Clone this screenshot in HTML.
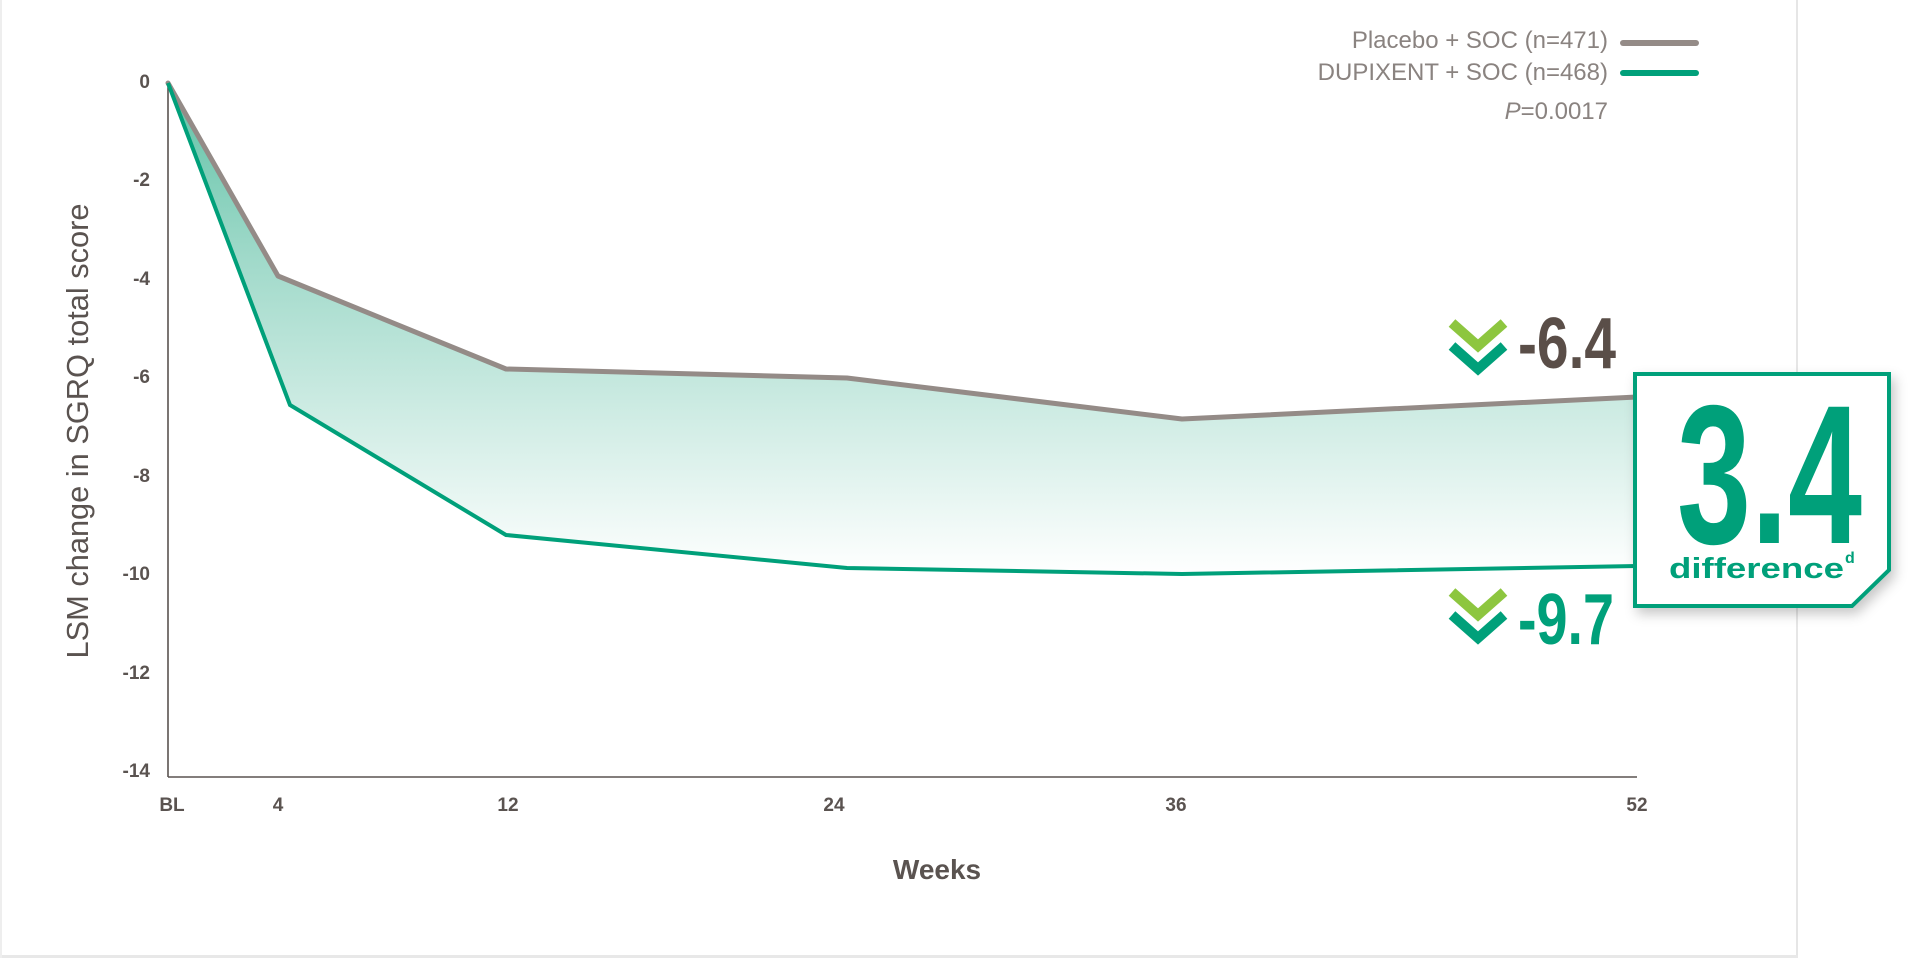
<!DOCTYPE html>
<html><head><meta charset="utf-8"><style>
html,body{margin:0;padding:0;background:#fff;width:1920px;height:965px;overflow:hidden}
svg{display:block}
</style></head><body>
<svg width="1920" height="965" viewBox="0 0 1920 965" xmlns="http://www.w3.org/2000/svg">
<defs>
<linearGradient id="fillg" x1="0" y1="83" x2="0" y2="575" gradientUnits="userSpaceOnUse">
<stop offset="0" stop-color="#5fc2a6"/>
<stop offset="0.35" stop-color="#9fd9c9"/>
<stop offset="1" stop-color="#ffffff"/>
</linearGradient>
<filter id="sh" x="-20%" y="-20%" width="150%" height="150%">
<feDropShadow dx="4" dy="6" stdDeviation="6" flood-color="#000" flood-opacity="0.22"/>
</filter>
</defs>
<rect x="0" y="0" width="1920" height="965" fill="#fff"/>
<rect x="1796" y="0" width="2" height="958" fill="#e6e6e6"/>
<rect x="0" y="955" width="1798" height="3" fill="#e8e8e8"/>
<rect x="0" y="0" width="2" height="958" fill="#eeeeee"/>

<polygon points="168,83 278,276 506,369 847,378 1182,419 1637,397 1637,566 1182,574 847,568 506,535 290,405 168,83" fill="url(#fillg)"/>

<line x1="168" y1="83" x2="168" y2="777" stroke="#5a5350" stroke-width="1.6"/>
<line x1="168" y1="777" x2="1637" y2="777" stroke="#5a5350" stroke-width="1.6"/>

<polyline points="168,83 278,276 506,369 847,378 1182,419 1637,397" fill="none" stroke="#948b87" stroke-width="5" stroke-linejoin="round" stroke-linecap="round"/>
<polyline points="168,83 290,405 506,535 847,568 1182,574 1637,566" fill="none" stroke="#00a07a" stroke-width="4" stroke-linejoin="miter"/>

<g font-family="Liberation Sans Narrow, Liberation Sans, sans-serif" font-weight="bold" font-size="19" fill="#5a5350" text-anchor="end">
<text x="150" y="88">0</text>
<text x="150" y="186">-2</text>
<text x="150" y="285">-4</text>
<text x="150" y="383">-6</text>
<text x="150" y="482">-8</text>
<text x="150" y="580">-10</text>
<text x="150" y="679">-12</text>
<text x="150" y="777">-14</text>
</g>
<g font-family="Liberation Sans Narrow, Liberation Sans, sans-serif" font-weight="bold" font-size="19" fill="#5a5350" text-anchor="middle">
<text x="172" y="811">BL</text>
<text x="278" y="811">4</text>
<text x="508" y="811">12</text>
<text x="834" y="811">24</text>
<text x="1176" y="811">36</text>
<text x="1637" y="811">52</text>
</g>
<text x="0" y="0" transform="translate(88,431) rotate(-90)" font-family="Liberation Sans Narrow, Liberation Sans, sans-serif" font-size="31" fill="#5a5350" text-anchor="middle" textLength="455" lengthAdjust="spacingAndGlyphs">LSM change in SGRQ total score</text>
<text x="937" y="879" font-family="Liberation Sans, sans-serif" font-weight="bold" font-size="28" fill="#5a5350" text-anchor="middle">Weeks</text>

<g font-family="Liberation Sans, sans-serif" font-size="24" fill="#8a8380" text-anchor="end">
<text x="1608" y="48">Placebo + SOC (n=471)</text>
<text x="1608" y="80">DUPIXENT + SOC (n=468)</text>
<text x="1608" y="119"><tspan font-style="italic">P</tspan>=0.0017</text>
</g>
<line x1="1623" y1="43" x2="1696" y2="43" stroke="#948b87" stroke-width="6" stroke-linecap="round"/>
<line x1="1623" y1="73" x2="1696" y2="73" stroke="#00a07a" stroke-width="6" stroke-linecap="round"/>

<g fill="none" stroke-width="10">
<polyline points="1452,323 1478,346 1504,323" stroke="#8dc63f"/>
<polyline points="1452,346 1478,369 1504,346" stroke="#00a07a"/>
<polyline points="1452,592 1478,615 1504,592" stroke="#8dc63f"/>
<polyline points="1452,615 1478,638 1504,615" stroke="#00a07a"/>
</g>
<text x="1518" y="368" font-family="Liberation Sans Narrow, Liberation Sans, sans-serif" font-weight="bold" font-size="72" fill="#5a4e48" textLength="98" lengthAdjust="spacingAndGlyphs">-6.4</text>
<text x="1518" y="644" font-family="Liberation Sans Narrow, Liberation Sans, sans-serif" font-weight="bold" font-size="72" fill="#00a07a" textLength="96" lengthAdjust="spacingAndGlyphs">-9.7</text>

<path d="M1635,374 L1889,374 L1889,570 L1852,606 L1635,606 Z" fill="#fff" stroke="#00a07a" stroke-width="4" filter="url(#sh)"/>
<text x="1677" y="543" font-family="Liberation Sans Narrow, Liberation Sans, sans-serif" font-weight="bold" font-size="198" fill="#00a07a" textLength="185" lengthAdjust="spacingAndGlyphs">3.4</text>
<text x="1669" y="578" font-family="Liberation Sans, sans-serif" font-weight="bold" font-size="29" fill="#00a07a" textLength="175" lengthAdjust="spacingAndGlyphs">difference</text>
<text x="1845" y="563" font-family="Liberation Sans, sans-serif" font-weight="bold" font-size="16" fill="#00a07a">d</text>
</svg>
</body></html>
